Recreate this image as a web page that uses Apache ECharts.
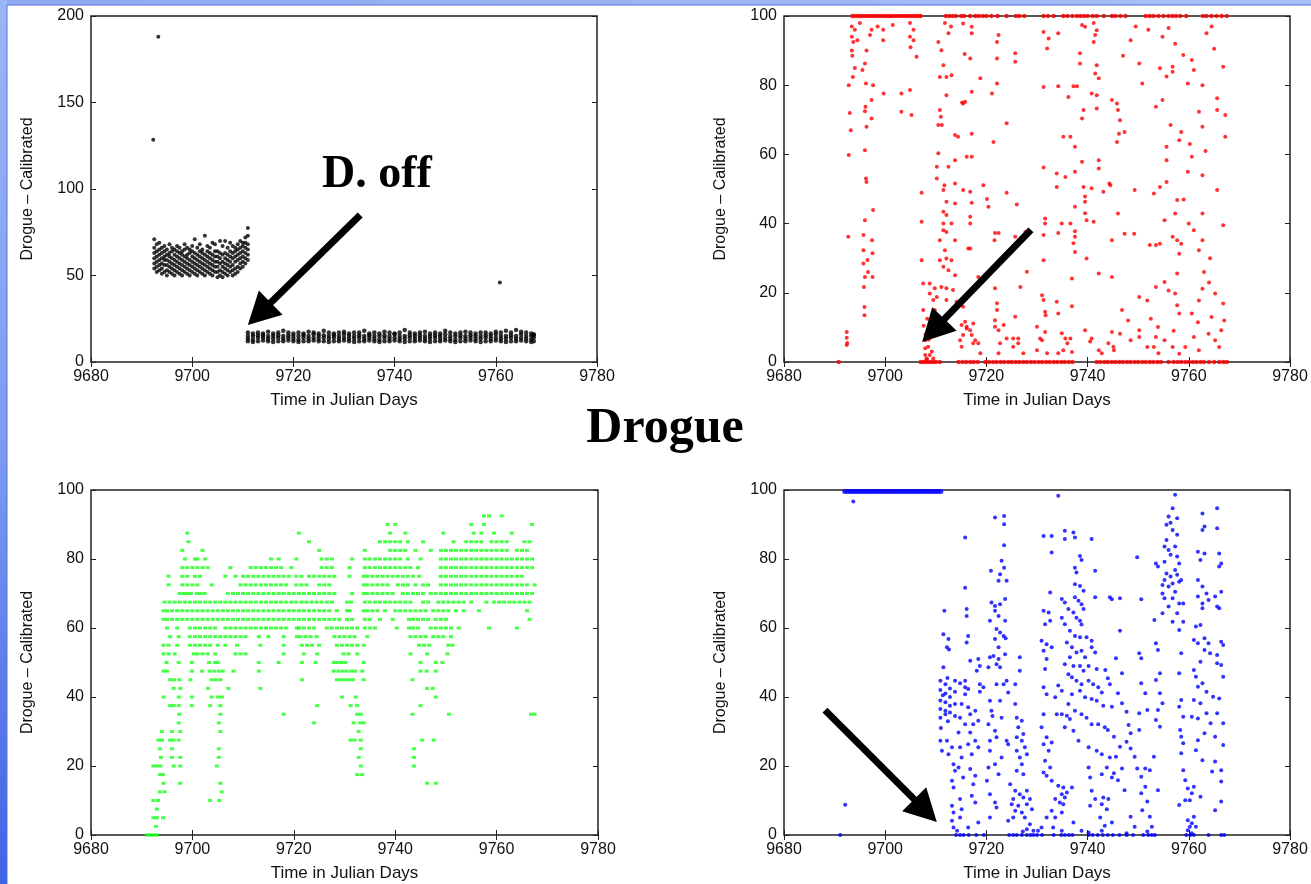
<!DOCTYPE html>
<html>
<head>
<meta charset="utf-8">
<script src="https://cdn.jsdelivr.net/npm/echarts@6/dist/echarts.min.js"></script>
<style>
  html, body { margin: 0; padding: 0; background: #fff; }
  #chart { width: 1311px; height: 884px; }
</style>
</head>
<body>
<div id="chart"></div>
<script>
// ---- data ----
const xTicks = [9680, 9700, 9720, 9740, 9760, 9780];

// black: drogue calibrated (top left)
const blackOutliers = [[9692.3, 128.5], [9693.3, 188], [9760.8, 46]];
// columns: [day, value, value, ...]
const blackCluster = [
  [9692.5,54,57,60,63,66,71],[9693,52,55,58,61,64,68],[9693.5,53,56,59,62,65,69],
  [9694,51,54,57,60,63,66],[9694.5,52,56,59,61,64,67],[9695,50,53,56,59,62,65],
  [9695.5,52,55,58,61,63,68],[9696,51,54,57,60,64,66],[9696.5,50,53,56,59,62,65],
  [9697,52,55,58,61,64,67],[9697.5,51,54,57,60,63,66],[9698,50,53,56,59,62,64],
  [9698.5,52,55,58,61,65,68],[9699,51,54,57,60,62,66],[9699.5,50,53,56,59,63,65],
  [9700,52,55,58,61,64,67],[9700.5,51,54,57,60,63,71],[9701,50,53,56,59,62,66],
  [9701.5,52,55,58,61,64,68],[9702,51,54,57,60,63,65],[9702.5,50,53,56,59,62,73],
  [9703,52,55,58,61,64,67],[9703.5,51,54,57,60,63,66],[9704,50,53,56,59,62,69],
  [9704.5,52,55,58,61,64,68],[9705,49,52,55,58,61,64],[9705.5,50,53,57,60,63,70],
  [9706,49,52,55,58,62,67],[9706.5,51,54,57,60,63,70],[9707,50,53,56,59,62,66],
  [9707.5,52,55,58,61,64,69],[9708,50,53,56,60,63,67],[9708.5,51,54,58,61,64,66],
  [9709,52,55,59,62,65,68],[9709.5,54,57,60,63,66,70],[9710,55,58,61,64,67,69],
  [9710.5,57,60,63,66,69,72],[9711,59,62,65,68,73,77.5]
];
const blackBand = [
  [9711,12,13.5,15,17],[9712,11.5,13,15,16.5],[9713,12,14,15.5,17],[9714,12.5,14,15.5,16.5],[9715,12,13.5,15,17.5],
  [9716,11.5,13.5,15,16.5],[9717,12,14,15.5,17],[9718,12,13.5,15,18],[9719,12.5,14,15.5,17],[9720,12,13.5,15,16.5],
  [9721,11.5,13,15,17],[9722,12,14,15.5,16.5],[9723,12,13.5,15,17.5],[9724,12.5,14,16,17],[9725,12,13.5,15,16.5],
  [9726,12,14,15.5,18],[9727,11.5,13.5,15,17],[9728,12,14,15.5,16.5],[9729,12,13.5,15,17],[9730,12.5,14,16,17.5],
  [9731,12,13.5,15,16.5],[9732,11.5,13.5,15,17],[9733,12,14,15.5,17],[9734,12,13.5,15,18],[9735,12.5,14,15.5,16.5],
  [9736,12,13.5,15,17],[9737,11.5,13,15,16.5],[9738,12,14,15.5,17.5],[9739,12,13.5,15,17],[9740,12.5,14,16,16.5],
  [9741,12,13.5,15,17],[9742,11.5,13.5,15,18.5],[9743,12,14,15.5,17],[9744,12,13.5,15,16.5],[9745,12.5,14,15.5,17],
  [9746,12,13.5,15,17.5],[9747,11.5,13.5,15,16.5],[9748,12,14,15.5,17],[9749,12,13.5,15,16.5],[9750,12.5,14,16,18],
  [9751,12,13.5,15,17],[9752,11.5,13,15,16.5],[9753,12,14,15.5,17],[9754,12,13.5,15,17.5],[9755,12.5,14,15.5,17],
  [9756,12,13.5,15,16.5],[9757,11.5,13.5,15,17],[9758,12,14,15.5,17],[9759,12,13.5,15,16.5],[9760,12.5,14,16,17.5],
  [9761,12,13.5,15,17],[9762,11.5,13.5,15,18],[9763,12,14,15.5,17],[9764,12,13.5,15,18.5],[9765,12.5,14,16,17.5],
  [9766,12,13.5,15,17],[9767,11.5,13,15,16.5],[9767.5,12,14,15.5,16]
];

// red (top right)
const redTop = [9693.5,9694,9694.5,9695,9695.5,9696,9696.5,9697,9697.5,9698,9698.5,9699,9699.5,9700,9700.5,
  9701,9701.5,9702,9702.5,9703,9703.5,9704,9704.5,9705,9705.5,9706,9706.5,9707,9712,9712.7,9713.4,9714,9715,
  9715.6,9716.8,9717.8,9718.5,9719.3,9720,9721,9722.2,9724,9725.8,9726.5,9727.5,9731.3,9732.2,9733.3,9735.2,
  9736,9737,9737.9,9738.6,9739.3,9740,9741,9741.8,9743.2,9744.8,9745.5,9746.5,9747.5,9751.5,9752.3,9753,9754,
  9755,9756,9756.8,9757.5,9758.3,9759.5,9762.8,9763.5,9764.5,9765.5,9766.5,9767.5];
const redZero = [9690.8,9707,9707.5,9708,9708.5,9709,9709.5,9710,9710.8,9714.5,9715.3,9716,9716.8,9717.5,9718.3,
  9719.8,9720.5,9721.3,9722,9722.8,9723.5,9724.3,9725,9725.8,9726.5,9727.3,9728,9728.8,9729.5,9730.3,9731,9731.8,
  9732.5,9733.3,9734,9734.8,9735.5,9736.3,9737,9741.8,9742.5,9743.3,9744,9744.8,9745.5,9746.3,9747,9747.8,9748.5,
  9749.3,9750,9750.8,9751.5,9752.3,9753,9753.8,9754.5,9756,9757,9757.8,9758.5,9759.3,9760,9760.8,9761.5,9762.3,
  9763,9764,9765,9766,9766.8,9767.5];
const redScatter = [
  [9692.4,8.7],[9692.4,7],[9692.5,5.5],[9692.4,4.9],[9692.7,36.2],[9692.8,59.8],[9693,72],[9693.2,67],[9692.8,80],
  [9693.6,82.4],[9693.4,97],[9693.4,94],[9693.4,90],[9693.7,92.5],[9693.5,88.5],[9694,96],[9694.5,93],[9695,98],
  [9694,85],[9695.5,84.4],[9696,86.3],[9696.3,90],[9696.1,73.8],[9696,72.5],[9697.3,70.4],[9696.3,68],[9696,61.2],
  [9696.3,52],[9696.2,53],[9697.6,43.9],[9696,41],[9697.4,35.2],[9695.7,36.7],[9695.7,32.3],[9695.7,28.5],
  [9697.5,31.4],[9696,24.6],[9697.5,24.6],[9695.8,21.7],[9695.9,15.9],[9695.9,13.5],[9697.3,75.7],[9697.6,80],
  [9697.3,96],[9699.6,96],[9699.6,93],[9701.5,97.4],[9699.7,77.6],[9703.2,77.6],[9704.9,78.6],[9703.2,72.3],
  [9705.2,71.4],[9704.9,98],[9704.9,94],[9705.6,96],[9705.6,93],[9706.2,88.2],[9705,91],[9696.5,29.5],[9696.6,26],
  [9696.2,80.5],[9697,94.5],[9698.5,97],
  [9707.2,48.9],[9707.2,40.5],[9707.2,29.4],[9707.5,22.7],[9707.5,15],[9707.9,6.3],[9707.9,4],[9707.9,2],
  [9708.2,1],[9708.5,4.4],[9708.8,2],[9708.2,0.8],[9709.5,1],[9708,8],[9708.6,6.5],[9709.2,3],[9707.6,10.5],[9708.3,12.5],
  [9710.5,92.5],[9711.1,90.1],[9711.5,85.8],[9712.1,82.4],[9710.8,82.4],[9713.1,82.9],[9712.1,77.1],[9715.4,74.7],
  [9710.8,72.8],[9711,70.9],[9710.5,68.5],[9711.2,68.5],[9713.8,65.6],[9714.4,65.1],[9710.5,60.3],[9712.5,56.4],
  [9713.8,58.3],[9710.2,56.4],[9710.2,53],[9711.7,51.1],[9713.8,51.6],[9715.4,49.7],[9711.5,49.7],[9712.1,46.3],
  [9713.8,45.8],[9711.5,43.4],[9712.1,42.5],[9711.5,40],[9713.1,40],[9711.5,38.1],[9712.1,37.6],[9710.8,35.2],
  [9713.8,35.2],[9711.8,32.3],[9712.1,29.9],[9710.8,29.4],[9713.1,29.4],[9711.5,27.5],[9712.5,26.5],[9713.8,25.1],
  [9708.8,22.7],[9709.8,21.3],[9711.1,21.7],[9712.1,21.3],[9713.4,20.8],[9708.8,19.8],[9709.5,17.9],[9710.2,18.8],
  [9709.8,15],[9712.1,17.9],[9714.1,17.4],[9715.4,16],[9715.1,10.7],[9716.1,9.7],[9715.4,7.8],[9714.8,6.3],
  [9715.1,4.4],[9715.4,97.8],[9715.7,89],[9715.2,75],[9716.1,59.3],[9716.4,32.8],[9712.5,95],[9713,97],[9711.8,98],
  [9717.1,96.9],[9717.1,95],[9722.4,94.5],[9722.1,92.5],[9716.8,87.7],[9722.1,87.7],[9725.7,89.2],[9725.7,86.8],
  [9718.8,82],[9717.1,78.1],[9721.1,77.6],[9722.1,80.5],[9731.3,95.4],[9732.3,93.5],[9734.2,95],[9732,90.6],
  [9731.3,79.5],[9734.2,79.7],[9737.2,79.7],[9737.9,79.7],[9736.2,76.6],[9738.5,89.2],[9738.5,86.3],[9738.9,97.4],
  [9739.5,96.9],[9741.2,98],[9741.8,95.9],[9741.5,94.5],[9741.2,92.5],[9741.8,85.8],[9741.5,83.4],[9742.2,82],
  [9739.2,72.8],[9738.9,70.4],[9740.8,77.6],[9741.8,77.1],[9741.8,73.3],[9744.8,75.7],[9715.8,75.2],
  [9724,69],[9721.4,63.6],[9717.1,66],[9717.1,59.3],[9735.2,65.1],[9736.6,65.1],[9737.5,62.2],[9738.9,57.9],
  [9731.3,56.2],[9733.9,54.5],[9735.6,53.5],[9737.5,55],[9742.2,58.3],[9742.2,55.9],[9719.4,51.1],[9724,48.9],
  [9716.8,49.2],[9717.1,46],[9720.1,47.1],[9720.4,44.9],[9726,45.5],[9733.9,50.6],[9739.2,50.6],[9740.8,50.2],
  [9743.1,49.2],[9744.5,51.1],[9739.5,47.8],[9739.5,46.3],[9737.5,44.9],[9739.5,43],[9739.8,41],[9741.2,40.5],
  [9731.6,41.5],[9731.6,40],[9734.9,40],[9736.6,40],[9716.8,42],[9716.8,40],[9731.3,36.7],[9734.2,37.3],
  [9737.5,37.8],[9737.5,36.2],[9737.2,34.3],[9737.5,31.8],[9721.7,37.3],[9722.4,37.3],[9721.6,35.2],[9725.7,36.2],
  [9727.7,37.6],[9716.8,32.8],[9739.8,29.9],[9731.3,29.4],[9728,26.1],[9718.4,24.6],[9736.9,24.1],[9742.2,25.6],
  [9744.8,24.6],[9726.7,21.7],[9721.7,21.3],[9731,19.3],[9731.3,17.9],[9731.6,14.5],[9731.7,13.5],[9733.9,17.4],
  [9734.2,14],[9736.9,16.1],[9722.1,17],[9722.1,15],[9725.7,13.1],[9721.7,12.1],[9723.4,10.7],[9715.8,11.6],
  [9717.4,11.1],[9716.8,9.2],[9717.8,6.3],[9717.4,5.4],[9718.4,5.4],[9718.8,2.5],[9721.7,10.2],[9722.4,9.2],
  [9722.7,5.4],[9722.4,2.5],[9724,6.8],[9725.3,6.8],[9726.3,6.8],[9726.3,5.4],[9725.3,4.4],[9727.3,2.5],[9730,10.2],
  [9731.6,8.7],[9730.6,6.8],[9731,6.3],[9732,2.5],[9730,3.4],[9734.9,8.3],[9735.6,6.8],[9736.6,6.8],[9736,5.4],
  [9735.2,3.4],[9734.2,2.5],[9736.9,2.9],[9739.5,9.2],[9740.8,6.8],[9740.5,5.9],[9742.2,3.4],[9742.8,2.5],
  [9744.8,8.7],[9744.1,5.4],[9745.1,4.4],[9716.1,10.2],[9717.1,7.8],
  [9745.8,74.7],[9746,72.8],[9746.4,69.9],[9746.2,66],[9745.8,63.6],[9747.3,66.5],[9744.3,51.6],[9746,42.9],
  [9744.8,35.2],[9747.3,37.1],[9748.5,93],[9749.2,37.1],[9750.2,86.3],[9750.8,80.5],[9749.3,49.7],[9750.2,18.8],
  [9752.3,33.8],[9753.5,33.8],[9754.3,34.2],[9753.1,48.7],[9754.3,50.6],[9753.5,73.8],[9754.8,94],[9754.3,84.9],
  [9754.8,75.7],[9755.6,82.5],[9756.8,83.9],[9756.4,68.5],[9755.6,62.2],[9755.6,58.3],[9755.6,52],[9755.2,41],
  [9757.3,42.9],[9756.8,36.2],[9757.7,35.2],[9758.1,31.3],[9758.5,34.2],[9757.7,25.6],[9757.3,92],[9756.8,85.3],
  [9758.9,88.7],[9758.5,66.5],[9758.1,64.1],[9757.7,46.8],[9757.3,19.8],[9757.7,16.4],[9758.1,14],[9760.6,87.3],
  [9761,84.4],[9760.6,59.3],[9759.8,80.5],[9762,72.3],[9761,38.1],[9762,32.3],[9762.7,80],[9762.7,68],[9762.7,54],
  [9762.7,42.9],[9762.7,35.2],[9762.7,21.2],[9762,17.8],[9763.9,8.2],[9765.2,19.8],[9765.6,49.7],[9765.6,76.2],
  [9765.6,72.8],[9766.8,85.3],[9767.2,71.4],[9767.2,65.1],[9766.8,39.5],[9766.8,16.9],[9766.4,9.2],[9765.2,6.3],
  [9766,4.3],[9760.6,14],[9761,7.2],[9762,3.4],[9759.3,4.3],[9758.1,2.4],[9755.2,6.3],[9753.5,7.2],[9753.9,10.1],
  [9751.8,4.3],[9750.2,9.2],[9750.2,7.2],[9748.5,6.3],[9746.4,8.2],[9745.2,3.4],[9751.8,17.8],[9753.5,21.7],
  [9755.2,23.1],[9756,20.7],[9756.8,4.3],[9753.1,4.3],[9747,88.5],[9749.5,97],[9752,96],[9756,96.5],[9763.5,95],
  [9764.5,97],[9765,90.5],[9763,26],[9764,23],[9764.5,13],[9767,12],[9759,47],[9760,40],[9764.2,30],[9748,12],
  [9746.8,15],[9752.5,12.5],[9754,2.5],[9757,9],[9761.8,11.5],[9763.3,61],[9759.8,55],[9760.2,63]
];

// green (bottom left): rows [level, day, day, ...]
const greenRows = [
  [92.5,9757.5,9758.5,9761],
  [90,9738.5,9740,9755,9757.5,9767],
  [87.5,9699,9721,9739,9742,9749.5,9755.5,9757,9759.5,9763],
  [85,9699.2,9723,9737,9738,9739,9740,9741,9742.5,9745.5,9751.5,9754,9755,9756,9757,9759,9760,9761,9762,9765.5,9766.5],
  [82.5,9698,9702,9725,9734,9739,9740,9741,9742,9744,9747,9749,9750,9751,9752,9753,9754,9755,9756,9757,9758,9759,
    9760,9761,9762,9764,9765,9766],
  [80,9698.5,9700.5,9701,9702.5,9715.5,9717,9720.5,9725.5,9726.5,9727.5,9731.5,9734,9735,9736,9737,9738,9739,9740,
    9741,9742.5,9745,9749,9750,9751,9752,9753,9754,9755,9756,9757,9758,9759,9760,9761,9762,9763,9764,9765,9766,9767],
  [77.5,9698,9699,9700,9701,9702,9703,9707.5,9711.5,9712.5,9713.5,9714.5,9715.5,9716.5,9717.5,9719.5,9725.5,9726.5,
    9727.5,9731,9734,9735,9736,9737,9738,9739,9740,9741,9742,9743,9744.5,9749,9750,9751,9752,9753,9754,9755,9756,
    9757,9758,9759,9760,9761,9762,9763,9764,9765,9766,9767],
  [75,9695.3,9698,9699,9700.5,9701.5,9706.5,9708.5,9710,9711,9712,9713,9714,9715,9716,9717,9718,9719,9720.5,9721.5,
    9723,9724,9725,9726,9727,9728,9731,9733.8,9734.5,9735.5,9736.5,9737.5,9738.5,9739.5,9740.5,9741.5,9742.5,9743.5,
    9744.7,9749,9750,9751,9752,9753,9754,9755,9756,9757,9758,9759,9760,9761,9762,9763,9764,9765],
  [72.5,9695.3,9698,9699,9700,9701,9703.8,9709.5,9710.5,9711.5,9712.5,9713.5,9714.5,9715.5,9716.5,9717.5,9718.5,
    9720.5,9721.5,9722.5,9725,9726,9727,9733.8,9734.5,9735.5,9736.5,9737.5,9738.5,9740.5,9741.5,9742.5,9744,9745.5,
    9746.5,9749,9750,9751,9752,9753,9754,9755,9756,9757,9758,9759,9760,9761,9762,9763,9764,9765,9766,9767.5],
  [70,9697.5,9698.3,9699,9699.7,9700.9,9701.6,9702.4,9707,9708,9709,9710,9711,9712,9713,9714,9715,9716,9717,9718,
    9719,9720,9721,9722,9723,9724,9725,9726,9727,9728,9731.5,9733.8,9734.5,9735.5,9736.5,9737.5,9738.5,9739.5,9741.5,
    9742.5,9743.5,9744.5,9745.5,9747,9748,9749,9750,9751,9752,9753,9754,9755,9756,9757,9758,9759,9760,9761,9762,9763,
    9764,9765,9766,9767],
  [67.5,9694.5,9695.5,9696.5,9697.5,9698.5,9699.5,9700.5,9701.5,9702.5,9703.5,9704.5,9705.5,9706.5,9707.5,9708.5,
    9709.5,9710.5,9711.5,9712.5,9713.5,9714.5,9715.5,9716.5,9717.5,9718.5,9719.5,9720.5,9721.5,9722.5,9723.5,9724.5,
    9725.5,9726.5,9727.5,9730.5,9731.3,9734,9735,9736,9737,9738,9739,9740,9741,9742,9743,9745.5,9746.5,9748.5,9749.5,
    9750.5,9751.5,9752.5,9753.5,9755,9758,9759.5,9760.5,9761.5,9762.5,9763.5,9764.5,9765.5,9766.5],
  [65,9694.3,9695,9696,9697,9698,9699,9700,9701,9702,9703,9704,9705,9706,9707,9708,9709,9710,9711,9712,9713,9714,
    9715,9716,9717,9718,9719,9720,9721,9722,9723,9724,9725,9726,9727,9728.5,9730.5,9731,9733.8,9734.5,9735.5,9736.5,
    9738,9740,9741,9742,9743,9744,9745,9746,9747.5,9748.5,9749.5,9750.5,9752,9753.5,9756.5,9766],
  [62.5,9694.3,9695,9696,9697,9698,9699,9700,9701,9702,9703,9704,9705,9706,9707,9708,9709,9710,9711,9712,9713,9714,
    9715,9716,9717,9718,9719,9720,9721,9722,9723,9724,9725,9726,9727,9728,9729,9730.5,9731.5,9734,9735,9737,9739.5,
    9742.7,9743.5,9744.5,9745.5,9746.5,9748,9749,9750,9766.5],
  [60,9695,9697,9699.5,9700.5,9701.5,9702.5,9703.5,9704.5,9706.5,9707.5,9708.5,9709.5,9710.5,9711.5,9712.5,9713.5,
    9714.5,9715.5,9716.5,9717.5,9718.5,9720.6,9721,9722,9723,9724,9726.5,9727.5,9728.5,9729.5,9730.5,9731.5,9732.5,
    9734,9735,9736,9740.3,9742.7,9743.5,9744.5,9747,9748,9749,9750,9751,9752.5,9758.5,9764],
  [57.5,9695.6,9697.3,9699.5,9700.5,9701.5,9702.5,9703.5,9704.5,9705.5,9706.5,9707.5,9708.5,9709.5,9710.5,9713.1,
    9715,9718,9720.6,9721.3,9722.3,9723.3,9724.5,9728,9729,9730,9731,9732,9734.5,9743,9744,9745,9746,9747.5,9748.5,
    9749.5,9751],
  [55,9694.3,9695.3,9697,9699.5,9700.5,9701.5,9702.5,9703.5,9705,9706.5,9708.8,9713.4,9718,9721.6,9722.6,9723.6,
    9725,9728.5,9729.5,9730.5,9731.5,9732.5,9733.8,9744.7,9745.7,9746.7,9750.5,9751.3],
  [52.5,9694.3,9695.3,9696.5,9700.3,9701,9702,9703,9704.5,9708.5,9709.5,9710.5,9718,9722,9724.6,9729.8,9730.8,
    9732.5,9743,9746.3,9750.3],
  [50,9694.9,9697.3,9699.9,9703.3,9704.5,9705,9713.1,9717,9721.6,9724.3,9727.9,9728.6,9729.4,9730.2,9733.8,9745,
    9748,9749.3],
  [47.5,9694.3,9695,9699.9,9701.9,9703.4,9704.3,9705.2,9706,9708.1,9713.1,9727.9,9728.8,9729.6,9730.4,9731.3,
    9732.1,9733.5,9745,9746.2,9748],
  [45,9695.6,9696.4,9697.4,9699.6,9703.8,9704.6,9705.5,9721.6,9728.5,9729.3,9730.1,9730.9,9731.7,9733.8,9743.4],
  [42.5,9696.3,9697.6,9703.1,9707.1,9713.4,9746.3,9747.4],
  [40,9694.3,9697.3,9699.9,9703.8,9705,9705.8,9729.5,9732.2,9748],
  [37.5,9695.6,9696.3,9697.3,9699.9,9703.5,9705.5,9724.6,9731.2,9732.5,9745],
  [35,9697.4,9705.5,9718,9732.5,9733.2,9743.4,9750.6,9766.8,9767.5],
  [32.5,9697.3,9705.2,9724,9731.8,9733.1,9733.8],
  [30,9694,9696,9697.6,9705.5,9732.8],
  [27.5,9693.3,9694,9695.6,9696.3,9697.3,9731.2,9732,9733.2,9745.3,9747.6],
  [25,9693.6,9696,9705.2,9733.2,9743.7],
  [22.5,9693.8,9696,9697.6,9705.2,9732.8,9743.7],
  [20,9692.3,9693,9693.7,9696.3,9697.6,9704.8,9733.2,9743.7],
  [17.5,9693.6,9694.2,9732.5,9733.5],
  [15,9694.3,9697.6,9705.5,9746.3,9748],
  [12.5,9693.6,9694.5,9705.8],
  [10,9692.3,9693.2,9703.5,9705.3],
  [7.5,9693],
  [5,9692.3,9693,9694.2],
  [2.5,9692.8],
  [0,9691,9691.5,9692,9692.5,9693]
];

// blue (bottom right)
const blueTop = [9692,9692.5,9693,9693.5,9694,9694.5,9695,9695.5,9696,9696.5,9697,9697.5,9698,9698.5,9699,9699.5,
  9700,9700.5,9701,9701.5,9702,9702.5,9703,9703.5,9704,9704.5,9705,9705.5,9706,9706.5,9707,9707.5,9708,9708.5,
  9709,9709.5,9710,9710.5,9711];
const blueZero = [9691.1,9714,9714.8,9715.5,9716.5,9718,9719.5,9724.5,9725.3,9726,9727,9728,9728.7,9729.3,9730,
  9731,9733.3,9734.8,9735.5,9736.3,9737,9740.2,9741,9742,9743,9744,9745,9746.3,9747.7,9749,9751,9752,9752.7,
  9753.3,9759.5,9760.3,9761,9763.9,9766.4,9767];
const blueScatter = [
  [9693.7,96.7],[9692.1,8.8],
  [9711.7,65],[9711.5,58.2],[9712.5,56.8],[9712.2,54.4],[9712.6,53.8],[9711.5,48.6],[9710.9,44.7],[9710.9,42],
  [9710.9,39],[9710.9,36.5],[9710.9,34],[9711.9,43.7],[9711.9,41],[9711.9,38.5],[9711.9,36],[9711.9,35],
  [9712.8,42.5],[9712.8,40],[9712.8,37.5],[9712.8,35.5],[9713.8,44.7],[9713.8,41.5],[9713.8,38],[9713.8,34.5],
  [9710.9,27.3],[9712.2,27.3],[9713.2,25.4],[9711.2,24.4],[9712.5,23.4],[9713.5,20.5],[9713.8,18.6],[9713.2,15.7],
  [9713.5,13.8],[9713.2,8.5],[9713.5,6.5],[9713.2,4.1],[9713.5,2.2],[9714.2,1.2],[9711.4,40.5],[9712.3,45.5],
  [9711,31],[9712.4,33],
  [9715.8,86.2],[9715.8,71.7],[9716.1,65.5],[9716.1,63.5],[9716.4,57.7],[9716.1,55.8],[9716.8,50.5],[9718.4,51],
  [9718.7,49],[9718.1,47.6],[9715.8,44.7],[9715.8,42.8],[9715.8,40.8],[9714.8,44],[9716.4,42.3],[9718.7,43.7],
  [9719.4,42.8],[9718.7,41.5],[9715.1,38],[9716.4,37],[9716.8,35],[9717.8,36],[9714.8,34],[9715.8,32.1],
  [9717.4,32.1],[9718.4,33.1],[9714.5,29.7],[9716.8,29.7],[9717.8,27.3],[9716.4,26.3],[9714.8,25.4],[9718.4,25.4],
  [9717.1,23.4],[9715.1,22.5],[9714.5,19.6],[9716.8,19.1],[9717.8,17.2],[9715.4,16.7],[9717.4,14.7],[9714.8,10.4],
  [9717.1,11.4],[9717.8,9.4],[9715.1,7.5],[9714.8,5.1],[9718.4,3.6],[9716.4,2.2],
  [9721.7,92],[9723.5,92.5],[9723.5,90.1],[9723.5,84],[9720.9,76.6],[9723,79.5],[9723.5,77.5],[9722.7,75.6],
  [9722.4,73.7],[9724,73.7],[9721,67.4],[9721.7,66.4],[9722.7,66.9],[9723.7,68.4],[9721.7,65],[9722.4,63.5],
  [9720.7,62.1],[9723.7,62.1],[9722,59.7],[9722.7,58.7],[9723.4,57.7],[9723.8,57],[9721.7,56.8],[9722.4,54.4],
  [9721.4,51.9],[9720.7,51.5],[9722.4,51],[9722,49.5],[9722.7,48.6],[9720.4,48.6],[9723.7,52.4],[9724,44.7],
  [9723.4,43.7],[9724.3,41.3],[9725.7,43.7],[9726.6,51.5],[9726.6,47.6],[9725.7,38],[9722,43.7],[9720.7,38.9],
  [9721,36],[9722.7,38.9],[9723,34],[9721.2,34.5],[9720.4,32.1],[9721.7,30.2],[9722,28.3],[9720.7,27.3],[9724,27.3],
  [9720.7,24.4],[9724.3,26.3],[9723,22.5],[9720.4,19.6],[9721.7,20.5],[9722.4,17.6],[9720.1,15.7],[9720.7,11.8],
  [9721.7,9.4],[9722,8],[9720.7,5.1],[9724.3,4.1],
  [9726,34],[9727,33.1],[9726.3,31.2],[9727.3,29.3],[9726,28.3],[9727,27.3],[9727.6,25.4],[9726,24.4],[9726.6,22.5],
  [9728,23.4],[9727,20.5],[9726,18.6],[9727.3,17.6],[9724.7,14.7],[9725.7,12.8],[9726.6,11.8],[9728,12.8],
  [9725.3,10.4],[9727.3,10.9],[9728.6,10.4],[9725,8.9],[9726.3,8.5],[9728,8.9],[9725.7,7],[9727,6.5],[9729,7.5],
  [9725.3,5.1],[9727.6,5.1],[9728.6,3.1],[9728,1.7],[9729.3,1.2],[9727.2,1],[9730.2,1.2],
  [9731.3,86.7],[9732.9,86.7],[9732.9,81.9],[9732.6,70.3],[9731.3,65],[9732.3,64.5],[9731.6,61.1],[9732.6,62.1],
  [9730.9,56.3],[9731.9,55.3],[9732.9,54.4],[9731.3,53.4],[9731.9,51],[9731.6,48.1],[9731.3,42.8],[9731.9,40.8],
  [9731.3,35],[9733.6,39.9],[9734.2,43.3],[9734.9,41.8],[9733.9,35],[9734.9,35],[9735.9,34.6],[9730.9,31.2],
  [9731.9,28.3],[9731.3,26.3],[9732.9,26.8],[9732.3,24.4],[9731.6,21.5],[9732.6,19.6],[9731.3,18.1],[9731.9,17.2],
  [9732.9,15.7],[9734.2,14.3],[9735.2,13.8],[9733.6,10.4],[9734.9,11.8],[9735.5,10.9],[9734.5,9.4],[9732.9,7],
  [9731.9,5.1],[9733.6,5.1],[9734.9,6.5],[9730.9,2.2],[9733.2,2.2],[9734.9,1.2],
  [9734.2,98.3],[9735.5,88.2],[9737.2,87.7],[9735.5,85.8],[9737.5,86.2],[9740.8,85.8],[9738.5,80.9],[9738.8,79.7],
  [9737.5,77.5],[9737.8,76.1],[9741.5,76.6],[9737.5,72.7],[9738.5,72.2],[9739.2,70.8],[9741.5,68.9],[9744.4,68.9],
  [9737.5,68.9],[9738.2,67.9],[9738.8,66.9],[9734.9,68.4],[9735.5,67.4],[9736.2,65.5],[9739.2,65.5],[9737.2,64.5],
  [9737.8,63],[9738.5,62.1],[9734.9,63],[9735.5,61.1],[9738.8,61],[9736.5,59.2],[9737.5,57.7],[9738.5,57.3],
  [9739.8,57.3],[9740.8,56.3],[9735.9,55.8],[9736.9,54.4],[9737.8,52.9],[9738.8,53.4],[9739.5,51.5],[9740.8,54.4],
  [9741.5,52.9],[9736.5,51.5],[9735.5,49.5],[9737.2,49],[9738.5,49],[9739.2,47.6],[9740.2,49],[9741.8,48.1],
  [9736.2,46.6],[9736.9,45.7],[9737.8,44.7],[9738.8,43.7],[9740.2,44.7],[9741.1,43.7],[9742.1,42.8],[9742.8,41.3],
  [9744.4,43.7],[9738.5,41.8],[9739.5,39.9],[9740.8,39.4],[9741.8,38.9],[9743.1,37.5],[9736.9,40.8],[9736.2,38],
  [9737.5,36],[9738.8,35],[9739.8,34],[9740.8,32.1],[9742.1,32.1],[9743.4,31.2],[9736.5,33.6],[9735.5,31.2],
  [9737.2,30.2],[9738.2,27.3],[9740.2,25.4],[9741.8,24.4],[9742.8,23.4],[9744.4,22.5],[9743.8,19.6],[9742.8,17.6],
  [9744.8,16.7],[9740.2,19.6],[9740.5,16.7],[9736.9,13.8],[9735.9,12.3],[9735.2,8.9],[9740.8,12.8],[9741.5,10.4],
  [9742.8,8.9],[9743.8,7.5],[9743.1,10.9],[9744.1,10.4],[9740.5,8.5],[9742.5,5.1],[9743.4,2.7],[9744.8,3.6],
  [9737.2,3.6],[9738.8,1.2],[9740.2,0.7],[9742.8,1.2],
  [9749.8,80.5],[9750.6,68.3],[9744.8,68.3],[9746.4,68.6],[9746.4,59.2],[9745.6,51.2],[9743.5,47.8],[9744,45.4],
  [9746.8,46.9],[9746,41.1],[9746.8,38.2],[9744.8,37.2],[9747.7,35.7],[9748.1,31.9],[9748.5,29.5],[9750.2,30.4],
  [9750.2,52.7],[9750.6,51.2],[9750.6,44],[9750.2,35.3],[9751.4,41.1],[9751.8,36.2],[9749.3,22.7],[9749.8,19.3],
  [9750.6,16.9],[9751.4,19.3],[9752.3,18.8],[9751.4,14],[9750.6,12.1],[9751.8,9.7],[9750.8,7.2],[9752.3,5.3],
  [9752.7,2.4],[9751.8,1],[9749.3,2.4],[9748.5,5.3],[9747.7,0.5],[9747.3,13],[9746,15.9],[9745.2,17.9],[9746.8,19.3],
  [9745.6,22.7],[9746.4,25.6],[9747.7,27],[9748.5,25.1],[9745.2,28.5],[9744,30.4],
  [9753.5,78.7],[9753.9,77.8],[9753.2,62.3],[9753.5,55.6],[9753.9,53.6],[9754.3,46.9],[9753.5,44.9],[9754.3,41.1],
  [9754.8,38.2],[9753.9,36.2],[9753.5,33.3],[9754.3,31.4],[9753.1,22.7],[9753.9,13],[9754.8,64.3],[9754.8,70],
  [9755.2,73.9],[9755.6,89.9],[9756,92.3],[9756.4,90.5],[9756.8,94.7],[9757.3,98.6],[9757.7,91.8],[9756.8,88.4],
  [9757.7,87],[9755.6,85.5],[9755.2,83.6],[9756,82.6],[9757.3,83.6],[9756.4,81.2],[9757.7,80.7],[9758.1,78.7],
  [9755.2,79.2],[9757.3,76.8],[9755.6,75.8],[9756.4,74.9],[9757.7,75.4],[9756.8,72.9],[9758.1,73.4],[9754.8,72.5],
  [9756,72],[9757.3,70.5],[9755.2,68.6],[9756.8,68.6],[9758.1,67.1],[9756,66.2],[9757.7,64.3],[9756.8,61.8],
  [9758.1,59.4],[9758.9,61.8],[9758.9,67.1],[9758.5,73.9],
  [9758.5,52.7],[9758.1,46.9],[9758.5,39.1],[9758.1,37.2],[9758.9,34.3],[9758.3,30.4],[9758.9,26.6],[9758.5,23.7],
  [9758.9,18.8],[9759.3,15.9],[9759.8,13.5],[9759.3,10.1],[9758.1,8.7],[9759.8,4.3],[9760.2,2.4],[9759.8,1.4],
  [9760.6,0.5],[9758.5,28.5],
  [9762.7,93.2],[9763.1,89.4],[9762.7,88.4],[9765.6,94.7],[9765.6,88.9],[9761.8,82.1],[9763.1,81.6],[9762.3,79.7],
  [9766,81.6],[9766.4,78.7],[9766,77.8],[9766.4,70.5],[9761.8,73.9],[9762.7,72],[9763.5,70],[9761.8,69.1],
  [9762.7,67.1],[9763.9,68.1],[9765.2,69.1],[9765.6,66.2],[9762.7,65.7],[9766,65.7],[9762.3,60.9],[9761.4,60.4],
  [9761,56.5],[9761.8,55.6],[9763.1,57],[9763.9,55.6],[9763.1,53.6],[9764.2,52.7],[9765.6,52.2],[9766.4,56],
  [9766.8,55.1],[9765.6,49.8],[9766.4,49.3],[9766.8,45.9],[9762.3,50.2],[9761,47.8],[9761.4,45.9],[9762.7,44],
  [9761.8,43],[9763.5,41.5],[9764.8,40.1],[9766,39.6],[9761,39.1],[9762.3,38.2],[9760.6,34.3],[9761.8,33.8],
  [9763.5,35.3],[9764.3,32.4],[9765.6,35.3],[9766.8,32.4],[9763.1,29.5],[9761.8,27.5],[9761.4,24.6],[9762.7,21.7],
  [9765.2,28.5],[9766.8,26.1],[9764.6,18.4],[9766.4,18.8],[9765.2,21.3],[9766.4,15.5],[9765.2,7.2],[9766.4,9.7],
  [9762.3,11.1],[9761,14],[9760.6,12.1],[9760.2,10.1],[9761,5.3],[9761.4,2.4],[9760.6,3.4]
];

// annotation arrows, in data units of their panel
const arrows = [
  { panel: 0, from: [9733.2, 85], to: [9711.0, 21.4] },
  { panel: 1, from: [9728.8, 38.2], to: [9707.3, 5.8] },
  { panel: 3, from: [9688.1, 36.2], to: [9710.2, 3.8] }
];

// ---- helpers ----
function fromColumns(rows) {
  const out = [];
  rows.forEach(r => { for (let i = 1; i < r.length; i++) out.push([r[0], r[i]]); });
  return out;
}
function fromLevels(rows) {
  const out = [];
  rows.forEach(r => { for (let i = 1; i < r.length; i++) out.push([r[i], r[0]]); });
  return out;
}
function atLevel(xs, y) { return xs.map(x => [x, y]); }

const chart = echarts.init(document.getElementById('chart'));

const panels = [
  { left: 91, top: 16, width: 506, height: 346, yMax: 200, yStep: 50 },
  { left: 784, top: 16, width: 506, height: 346, yMax: 100, yStep: 20 },
  { left: 91, top: 490, width: 507, height: 345, yMax: 100, yStep: 20 },
  { left: 784, top: 490, width: 506, height: 345, yMax: 100, yStep: 20 }
];

const labelFont = { fontFamily: 'Liberation Sans', fontSize: 16, color: '#111' };
const axisColor = '#222';
const plain = v => String(v);

const grids = [], xAxes = [], yAxes = [];
panels.forEach((p, i) => {
  grids.push({ left: p.left, top: p.top, width: p.width, height: p.height,
    show: true, borderColor: axisColor, borderWidth: 1.5, backgroundColor: '#fff' });
  ['bottom', 'top'].forEach(pos => {
    xAxes.push({
      gridIndex: i, type: 'value', position: pos, min: xTicks[0], max: xTicks[xTicks.length - 1], interval: 20,
      name: pos === 'bottom' ? 'Time in Julian Days' : '',
      nameLocation: 'middle', nameGap: 30,
      nameTextStyle: { fontFamily: 'Liberation Sans', fontSize: 17, color: '#111' },
      axisLine: { show: false },
      axisTick: { show: true, inside: true, length: 5, lineStyle: { color: axisColor } },
      axisLabel: Object.assign({ show: pos === 'bottom', margin: 7, formatter: plain }, labelFont),
      splitLine: { show: false }
    });
  });
  ['left', 'right'].forEach(pos => {
    yAxes.push({
      gridIndex: i, type: 'value', position: pos, min: 0, max: p.yMax, interval: p.yStep,
      name: pos === 'left' ? 'Drogue \u2013 Calibrated' : '',
      nameLocation: 'middle', nameGap: 55,
      nameTextStyle: { fontFamily: 'Liberation Sans', fontSize: 16, color: '#111' },
      axisLine: { show: false },
      axisTick: { show: true, inside: true, length: 5, lineStyle: { color: axisColor } },
      axisLabel: Object.assign({ show: pos === 'left', margin: 7, formatter: plain }, labelFont),
      splitLine: { show: false }
    });
  });
});

function scatter(panel, data, color, size, symbol) {
  return {
    type: 'scatter', xAxisIndex: panel * 2, yAxisIndex: panel * 2,
    data: data, symbol: symbol || 'circle', symbolSize: size,
    itemStyle: { color: color }, silent: true, animation: false
  };
}

const series = [
  scatter(0, blackOutliers, '#000', 4),
  scatter(0, fromColumns(blackCluster), '#000', 4),
  scatter(0, fromColumns(blackBand), '#000', 4.5),
  scatter(1, atLevel(redTop, 100), '#ff0000', 4.5),
  scatter(1, atLevel(redZero, 0), '#ff0000', 4.5),
  scatter(1, redScatter, '#ff0000', 4),
  scatter(2, fromLevels(greenRows), '#19ff19', [4, 3], 'rect'),
  scatter(3, atLevel(blueTop, 99.6), '#0000ff', 5),
  scatter(3, atLevel(blueZero, 0), '#0000ff', 4),
  scatter(3, blueScatter, '#0000ff', 4)
];

chart.setOption({
  animation: false,
  backgroundColor: '#fff',
  grid: grids,
  xAxis: xAxes,
  yAxis: yAxes,
  series: series
});

// slide frame, captions and arrows
const graphics = [
  { type: 'rect', z: -100, silent: true, shape: { x: 0, y: 0, width: 1311, height: 5 },
    style: { fill: new echarts.graphic.LinearGradient(0, 0, 1, 0, [
      { offset: 0, color: '#8eaaf0' }, { offset: 1, color: '#a9c0f6' }]) } },
  { type: 'rect', z: -100, silent: true, shape: { x: 0, y: 0, width: 7, height: 884 },
    style: { fill: new echarts.graphic.LinearGradient(0, 0, 0, 1, [
      { offset: 0, color: '#9ab6f4' }, { offset: 0.5, color: '#7d9cf0' }, { offset: 1, color: '#3f63e6' }]) } },
  { type: 'line', z: -90, silent: true, shape: { x1: 7, y1: 5, x2: 1311, y2: 5 },
    style: { stroke: '#5b6fe2', lineWidth: 1 } },
  { type: 'line', z: -90, silent: true, shape: { x1: 7, y1: 5, x2: 7, y2: 884 },
    style: { stroke: '#5b6fe2', lineWidth: 1 } },
  { type: 'text', z: 50, silent: true, x: 377, y: 175,
    style: { text: 'D. off', font: 'bold 46px "Liberation Serif"', fill: '#000',
      textAlign: 'center', textVerticalAlign: 'middle' } },
  { type: 'text', z: 50, silent: true, x: 665, y: 429,
    style: { text: 'Drogue', font: 'bold 50px "Liberation Serif"', fill: '#000',
      textAlign: 'center', textVerticalAlign: 'middle' } }
];

arrows.forEach(a => {
  const finder = { xAxisIndex: a.panel * 2, yAxisIndex: a.panel * 2 };
  const p0 = chart.convertToPixel(finder, a.from);
  const p1 = chart.convertToPixel(finder, a.to);
  const dx = p1[0] - p0[0], dy = p1[1] - p0[1];
  const len = Math.sqrt(dx * dx + dy * dy);
  const ux = dx / len, uy = dy / len;
  const headLen = 32, headW = 34;
  const bx = p1[0] - ux * headLen, by = p1[1] - uy * headLen;
  graphics.push({ type: 'line', z: 60, silent: true,
    shape: { x1: p0[0], y1: p0[1], x2: bx + ux * 3, y2: by + uy * 3 },
    style: { stroke: '#000', lineWidth: 7 } });
  graphics.push({ type: 'polygon', z: 60, silent: true,
    shape: { points: [[p1[0], p1[1]], [bx - uy * headW / 2, by + ux * headW / 2], [bx + uy * headW / 2, by - ux * headW / 2]] },
    style: { fill: '#000' } });
});

chart.setOption({ graphic: graphics });
</script>
</body>
</html>
